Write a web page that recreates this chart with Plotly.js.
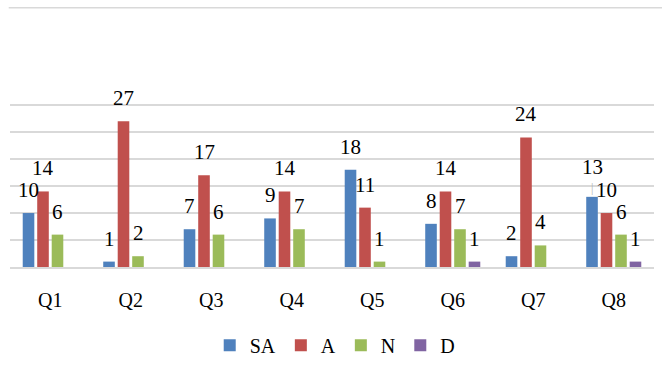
<!DOCTYPE html>
<html>
<head>
<meta charset="utf-8">
<script src="https://cdn.plot.ly/plotly-3.0.1.min.js"></script>
<style>html,body{margin:0;padding:0;background:#fff;}#chart{width:662px;height:379px;}</style>
</head>
<body>
<div id="chart"></div>
<script>
const categories = ["Q1","Q2","Q3","Q4","Q5","Q6","Q7","Q8"];
const seriesNames = ["SA","A","N","D"];
const SA = [10, 1, 7, 9, 18, 8, 2, 13];
const A  = [14, 27, 17, 14, 11, 14, 24, 10];
const N  = [6, 2, 6, 7, 1, 7, 4, 6];
const D  = [0, 0, 0, 0, 0, 1, 0, 1];
const colors = ["#4F81BD","#C0504D","#9BBB59","#8064A2"];

const series = [SA, A, N, D];
const FONT = "Liberation Serif";

const traces = series.map((vals, i) => ({
  type: "bar",
  name: seriesNames[i],
  x: categories,
  y: vals,
  marker: {color: colors[i]},
  hoverinfo: "skip"
}));

const slot = 14.5; // px per bar slot within a group
const annotations = [];
series.forEach((vals, i) => {
  vals.forEach((v, j) => {
    if (v > 0) {
      // the Q8 SA label was pushed up in the original, with a leader line
      const moved = (i === 0 && j === 7);
      annotations.push({
        x: categories[j], y: v, xref: "x", yref: "y",
        text: String(v), showarrow: false,
        xshift: (i - 1.5) * slot, yshift: moved ? 30 : 23,
        yanchor: "middle", xanchor: "center",
        font: {family: FONT, size: 21, color: "#000"}
      });
      if (moved) {
        annotations.push({
          x: categories[j], y: v, xref: "x", yref: "y",
          text: "|", showarrow: false, xshift: (i - 1.5) * slot, yshift: 9,
          yanchor: "middle", font: {family: FONT, size: 12, color: "#b0b0b0"}
        });
      }
    }
  });
});

const layout = {
  width: 662, height: 379,
  font: {family: FONT},
  margin: {l: 10, r: 8, t: 104, b: 112},
  paper_bgcolor: "#fff", plot_bgcolor: "#fff",
  barmode: "group", bargap: 0.28, bargroupgap: 0.2,
  showlegend: true,
  legend: {
    orientation: "h", x: 0.505, xanchor: "center", y: -0.36, yanchor: "top",
    font: {family: FONT, size: 20, color: "#000"},
    itemwidth: 30, traceorder: "normal"
  },
  xaxis: {
    type: "category",
    showgrid: false, showline: true, linecolor: "#d9d9d9", linewidth: 1.5,
    ticks: "outside", ticklen: 14, tickcolor: "rgba(0,0,0,0)",
    tickfont: {family: FONT, size: 20, color: "#000"},
    fixedrange: true
  },
  yaxis: {
    range: [0, 30.2], dtick: 5, tick0: 0,
    showgrid: true, gridcolor: "#d9d9d9", gridwidth: 1.5,
    zeroline: false, showticklabels: false, showline: false, ticks: "",
    fixedrange: true
  },
  shapes: [{
    type: "line", xref: "paper", yref: "paper",
    x0: -0.002, x1: 1.02, y0: 1.59, y1: 1.59,
    line: {color: "#d9d9d9", width: 1.5}
  }],
  annotations: annotations
};

Plotly.newPlot("chart", traces, layout, {displayModeBar: false, staticPlot: true});
</script>
</body>
</html>
